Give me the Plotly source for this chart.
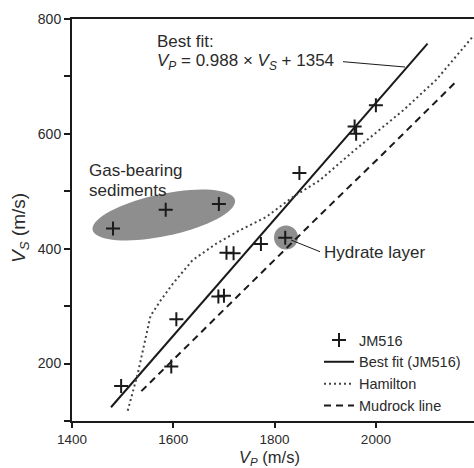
import numpy as np
import plotly.graph_objects as go

# ---- data ----
jm_vp = [1497, 1596, 1606, 1689, 1700, 1705, 1719, 1773, 1821, 1849, 1958, 1961, 2000, 1481, 1585, 1690]
jm_vs = [161, 195, 277, 317, 318, 393, 392, 408, 419, 532, 613, 600, 650, 435, 468, 478]

fit_vp = [1477, 2102]
fit_vs = [124, 757]

ham_vp = [1510, 1530, 1555, 1575, 1599, 1638, 1685, 1731, 1783, 1836, 1889, 1956, 2054, 2119, 2191]
ham_vs = [118, 183, 283, 310, 339, 380, 409, 432, 455, 490, 519, 570, 641, 694, 769]

mud_vp = [1537, 1685, 1889, 2008, 2155]
mud_vs = [152, 281, 458, 560, 688]

x_ticks = [1400, 1600, 1800, 2000]
y_ticks = [200, 400, 600, 800]

# ---- layout constants ----
W, H = 474, 468
ML, MR, MT, MB = 72, 0, 19, 47
XR = [1400, 2193.7]
YR = [100, 800]
PW, PH = W - ML - MR, H - MT - MB
SX = PW / (XR[1] - XR[0])
SY = PH / (YR[1] - YR[0])


def to_data(px, py):
    return XR[0] + (px - ML) / SX, YR[0] + (MT + PH - py) / SY


FONT = "Liberation Sans, Arial, Helvetica, sans-serif"
INK = "#1a1a1a"
TXT = "#2a2a2a"
GREY = "#8e8e8e"

fig = go.Figure()

fig.add_trace(go.Scatter(x=jm_vp, y=jm_vs, mode="markers", name="JM516",
                         marker=dict(symbol="cross-thin", size=10,
                                     line=dict(width=2, color=INK), color=INK)))
fig.add_trace(go.Scatter(x=fit_vp, y=fit_vs, mode="lines", name="Best fit (JM516)",
                         line=dict(color=INK, width=2)))
fig.add_trace(go.Scatter(x=ham_vp, y=ham_vs, mode="lines", name="Hamilton",
                         line=dict(color="#444444", width=2, dash="2px,3px")))
fig.add_trace(go.Scatter(x=mud_vp, y=mud_vs, mode="lines", name="Mudrock line",
                         line=dict(color=INK, width=2, dash="7px,5px")))

shapes = []
# gas-bearing ellipse (drawn in pixel geometry, converted to data)
cx, cy = 163.8, 215.0
a, b, th = 72.7, 21.0, np.radians(11.9)
phi = np.linspace(0, 2 * np.pi, 73)
ex = cx + a * np.cos(phi) * np.cos(th) - b * np.sin(phi) * np.sin(th)
ey = cy - (a * np.cos(phi) * np.sin(th) + b * np.sin(phi) * np.cos(th))
pts = [to_data(px, py) for px, py in zip(ex, ey)]
path = "M " + " L ".join(f"{x:.2f},{y:.2f}" for x, y in pts) + " Z"
shapes.append(dict(type="path", path=path, xref="x", yref="y", fillcolor=GREY,
                   line=dict(width=0), layer="below"))
# hydrate circle
hx, hy = to_data(286, 237.5)
r = 12
shapes.append(dict(type="circle", xref="x", yref="y", x0=hx - r / SX, x1=hx + r / SX,
                   y0=hy - r / SY, y1=hy + r / SY, fillcolor=GREY, line=dict(width=0), layer="below"))
# leader lines
for (p0, p1) in [((343, 61.7), (405, 67)), ((291, 240), (320, 251.7))]:
    x0, y0 = to_data(*p0)
    x1, y1 = to_data(*p1)
    shapes.append(dict(type="line", xref="x", yref="y", x0=x0, y0=y0, x1=x1, y1=y1,
                       line=dict(color=INK, width=1)))

ann = []


def text_at(px, py, s, size=17):
    x, y = to_data(px, py)
    ann.append(dict(x=x, y=y, xref="x", yref="y", text=s, showarrow=False,
                    xanchor="left", yanchor="middle", font=dict(size=size, color=TXT, family=FONT)))


text_at(155, 41.7, "Best fit:")
text_at(155, 61.7, "<i>V</i><sub><i>P</i></sub> = 0.988 × <i>V</i><sub><i>S</i></sub> + 1354")
text_at(86.5, 170, "Gas-bearing")
text_at(86.5, 190, "sediments")
text_at(322, 252.3, "Hydrate layer")

ann.append(dict(x=(269 - ML) / PW, y=-(457.5 - (MT + PH)) / PH, xref="paper", yref="paper",
                text="<i>V</i><sub><i>P</i></sub> (m/s)", showarrow=False,
                xanchor="center", yanchor="middle", font=dict(size=16.5, color=TXT, family=FONT)))
ann.append(dict(x=(20 - ML) / PW, y=(MT + PH - 228) / PH, xref="paper", yref="paper",
                text="<i>V</i><sub><i>S</i></sub> (m/s)", showarrow=False, textangle=-90,
                xanchor="center", yanchor="middle", font=dict(size=19, color=TXT, family=FONT)))

fig.update_layout(
    width=W, height=H,
    margin=dict(l=ML, r=MR, t=MT, b=MB, pad=0),
    paper_bgcolor="white", plot_bgcolor="white",
    font=dict(family=FONT, color=TXT, size=14),
    shapes=shapes, annotations=ann,
    showlegend=True,
    legend=dict(x=(319 - ML) / PW, xanchor="left", y=(MT + PH - 422) / PH, yanchor="bottom",
                bgcolor="rgba(0,0,0,0)", borderwidth=0, font=dict(size=14.5, color=TXT, family=FONT),
                itemwidth=30, tracegroupgap=0),
)
fig.update_xaxes(range=XR, showgrid=False, zeroline=False, showline=True, linecolor=INK, linewidth=2,
                 mirror=True, ticks="outside", ticklen=5, tickwidth=1.5, tickcolor=INK,
                 tickvals=x_ticks, tickfont=dict(size=13.5, color=TXT, family=FONT))
fig.update_yaxes(range=YR, showgrid=False, zeroline=False, showline=True, linecolor=INK, linewidth=2,
                 ticks="outside", ticklen=6, tickwidth=1.5, tickcolor=INK,
                 tickvals=y_ticks, tickfont=dict(size=14, color=TXT, family=FONT),
                 minor=dict(tickvals=[100, 300, 500, 700], ticks="outside", ticklen=6,
                            tickwidth=1.5, tickcolor=INK))

fig.write_html("out.html")
